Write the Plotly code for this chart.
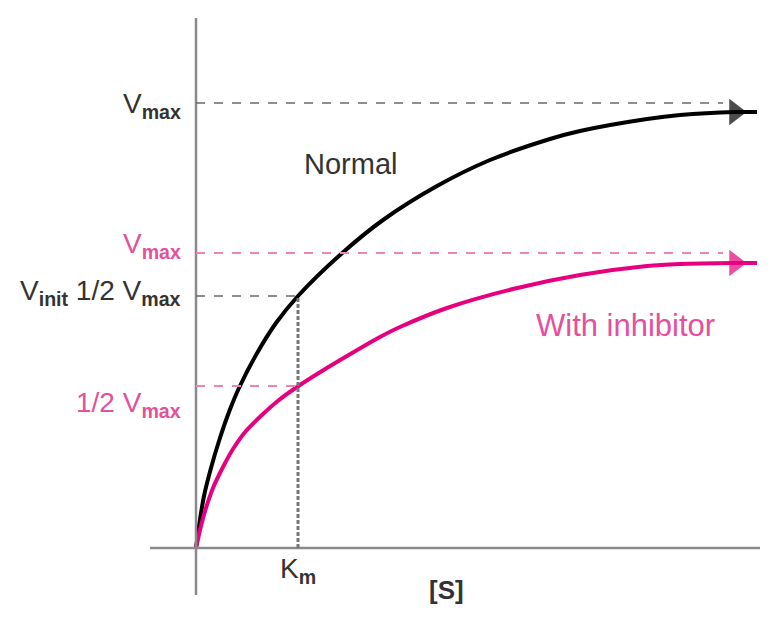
import plotly.graph_objects as go

# points; x = [S], y = reaction rate (same scale as picture)
s_normal = [0, 3, 8, 15, 23, 33, 43, 60, 80, 102, 144, 187, 241, 294, 354, 384, 451, 484, 539, 561]
v_normal = [0, 22, 52, 80, 107, 136, 160, 193, 225, 252, 293, 328, 362, 388, 409, 417, 429, 433, 436, 436]

s_inhib = [0, 5, 10, 17, 27, 37, 50, 67, 83, 101, 126, 151, 184, 204, 251, 317, 384, 451, 484, 539, 561]
v_inhib = [0, 22, 40, 60, 81, 99, 117, 134, 148, 161, 177, 192, 211, 221, 240, 259, 273, 282, 284, 285, 285]

vmax_normal = 445
vmax_inhib = 295
half_normal = 252
half_inhib = 162
km = 102
dash_end = 527

black = '#000000'
pink = '#e6007e'
pink_text = '#e4509b'
grey_text = '#333333'
font = 'Liberation Sans, Arial, sans-serif'

fig = go.Figure()

# axes drawn by hand, like the sketch
fig.add_shape(type='line', x0=0, x1=0, y0=-47, y1=530, line=dict(color='#8a8a8a', width=2.5))
fig.add_shape(type='line', x0=-46, x1=564, y0=0, y1=0, line=dict(color='#8a8a8a', width=2.5))

# guide lines
fig.add_shape(type='line', x0=0, x1=dash_end, y0=vmax_normal, y1=vmax_normal,
			  line=dict(color='#6a6a6a', width=1.5, dash='dash'))
fig.add_shape(type='line', x0=0, x1=dash_end, y0=vmax_inhib, y1=vmax_inhib,
			  line=dict(color='#ec84b8', width=2, dash='dash'))
fig.add_shape(type='line', x0=0, x1=km, y0=half_normal, y1=half_normal,
			  line=dict(color='#6a6a6a', width=1.5, dash='dash'))
fig.add_shape(type='line', x0=0, x1=km, y0=half_inhib, y1=half_inhib,
			  line=dict(color='#ec84b8', width=2, dash='dash'))
fig.add_shape(type='line', x0=km, x1=km, y0=0, y1=half_normal,
			  line=dict(color='#777777', width=3, dash='4px,2px'))

for s, v, col in [(s_normal, v_normal, black), (s_inhib, v_inhib, pink)]:
	sizes = [0] * len(s)
	sizes[-2] = 23
	fig.add_trace(go.Scatter(x=s, y=v, mode='lines+markers',
							line=dict(color=col, width=4, shape='spline', smoothing=0.85),
							marker=dict(symbol='triangle-right', size=sizes, color=col, line=dict(width=0)),
							hoverinfo='skip', showlegend=False))

def label(x, y, text, color, size=28, xanchor='right'):
	fig.add_annotation(x=x, y=y, text=text, showarrow=False, xanchor=xanchor, yanchor='middle',
					   font=dict(family=font, size=size, color=color))

sub = '<sub><b>%s</b></sub>'
label(-13, vmax_normal - 2, 'V' + sub % 'max', grey_text)
label(-13, vmax_inhib + 8, 'V' + sub % 'max', pink_text)
label(-13, half_normal + 4, 'V' + sub % 'init' + ' 1/2 V' + sub % 'max', grey_text)
label(-13, half_inhib - 18, '1/2 V' + sub % 'max', pink_text)
label(km, -22, 'K' + sub % 'm', grey_text, xanchor='center')
label(250, -42, '<b>[S]</b>', grey_text, size=26, xanchor='center')
label(154, 384, 'Normal', grey_text, size=29, xanchor='center')
label(429, 223, 'With inhibitor', pink_text, size=31, xanchor='center')

# the page body adds an 8px margin, so the figure is 8px smaller than the window
fig.update_layout(width=767, height=610, margin=dict(l=0, r=0, t=0, b=0),
				  plot_bgcolor='white', paper_bgcolor='white',
				  xaxis=dict(range=[-188, 579], visible=False),
				  yaxis=dict(range=[-70, 540], visible=False))

fig.write_html("out.html")
